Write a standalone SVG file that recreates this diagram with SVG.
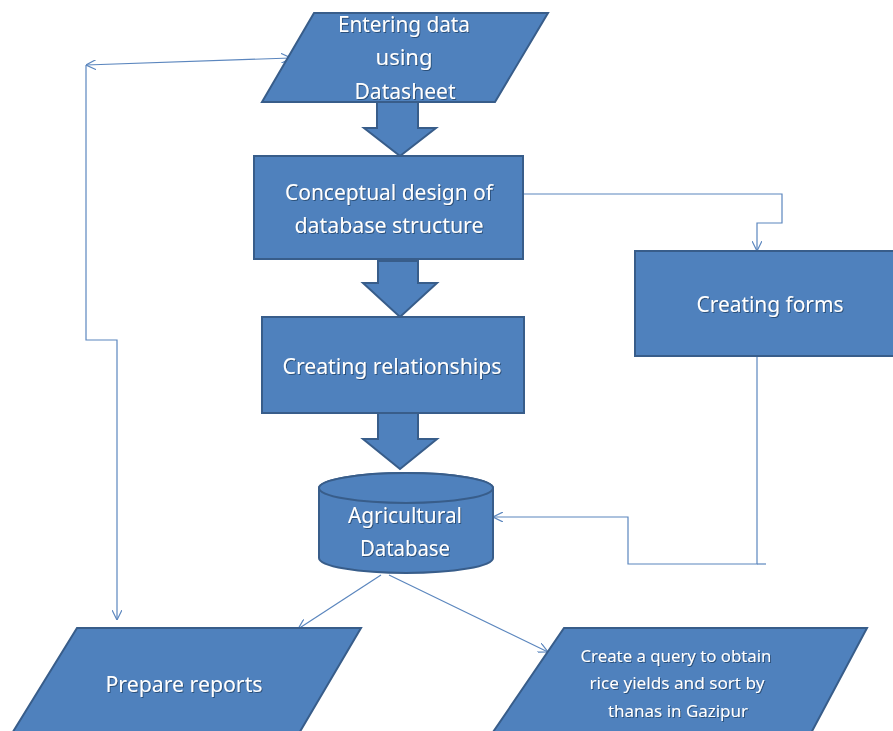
<svg xmlns="http://www.w3.org/2000/svg" width="893" height="731" viewBox="0 0 893 731">
<defs>
<style>
.shape{fill:#4F81BD;stroke:#385D8A;stroke-width:2}
.t{fill:#ffffff;font-family:"Noto Sans","Open Sans",sans-serif;text-anchor:middle;font-size:22px;filter:url(#sh)}
.s{font-size:17px}
.conn{fill:none;stroke:#5B86BE;stroke-width:1.2}
</style>
<filter id="sh" x="-10%" y="-30%" width="120%" height="160%">
<feDropShadow dx="1" dy="1" stdDeviation="0.6" flood-color="#1F3A5F" flood-opacity="0.7"/>
</filter>
<marker id="ah" viewBox="0 0 10 10" refX="10" refY="5" markerWidth="10" markerHeight="10" markerUnits="userSpaceOnUse" orient="auto-start-reverse">
<path d="M0,0 L10,5 L0,10" fill="none" stroke="#5B86BE" stroke-width="1.2"/>
</marker>
</defs>
<rect width="893" height="731" fill="#ffffff"/>
<g id="connectors">
<line class="conn" x1="86" y1="65" x2="291" y2="58" marker-start="url(#ah)" marker-end="url(#ah)"/>
<polyline class="conn" points="86,65 86,340 117,340 117,620" marker-end="url(#ah)"/>
<polyline class="conn" points="523,194 782,194 782,223 757,223 757,251" marker-end="url(#ah)"/>
<polyline class="conn" points="757,356 757,564 628,564 628,517 493,517" marker-end="url(#ah)"/>
<line class="conn" x1="757" y1="564" x2="766" y2="564"/>
<line class="conn" x1="381" y1="575" x2="298" y2="629" marker-end="url(#ah)"/>
<line class="conn" x1="389" y1="575" x2="548" y2="652" marker-end="url(#ah)"/>
<polygon class="shape" points="377,100 418,100 418,128 436,128 400,156 364,128 377,128"/>
<polygon class="shape" points="378,261 418,261 418,283 437,283 400,317 363,283 378,283"/>
<polygon class="shape" points="378,413 418,413 418,439 437,439 400,469 363,439 378,439"/>
</g>
<g id="entering">
<polygon class="shape" points="314,13 548,13 495,102 262,102"/>
<text class="t" x="404" y="32" textLength="132" lengthAdjust="spacingAndGlyphs">Entering data</text>
<text class="t" x="404" y="65">using</text>
<text class="t" x="405" y="99" textLength="101" lengthAdjust="spacingAndGlyphs">Datasheet</text>
</g>
<g id="conceptual">
<rect class="shape" x="254" y="156" width="269" height="103"/>
<text class="t" x="389" y="200" textLength="208" lengthAdjust="spacingAndGlyphs">Conceptual design of</text>
<text class="t" x="389" y="233" textLength="189" lengthAdjust="spacingAndGlyphs">database structure</text>
</g>
<g id="relationships">
<rect class="shape" x="262" y="317" width="262" height="96"/>
<text class="t" x="392" y="374" textLength="219" lengthAdjust="spacingAndGlyphs">Creating relationships</text>
</g>
<g id="forms">
<rect class="shape" x="635" y="251" width="270" height="105"/>
<text class="t" x="770" y="312" textLength="147" lengthAdjust="spacingAndGlyphs">Creating forms</text>
</g>
<g id="database">
<path class="shape" d="M319,488 L319,558 A87,15 0 0 0 493,558 L493,488 A87,15 0 0 0 319,488 Z"/>
<ellipse class="shape" cx="406" cy="488" rx="87" ry="15"/>
<text class="t" x="405" y="523" textLength="114" lengthAdjust="spacingAndGlyphs">Agricultural</text>
<text class="t" x="405" y="556" textLength="90" lengthAdjust="spacingAndGlyphs">Database</text>
</g>
<g id="reports">
<polygon class="shape" points="77,628 361,628 298,735 11,735"/>
<text class="t" x="184" y="692" textLength="157" lengthAdjust="spacingAndGlyphs">Prepare reports</text>
</g>
<g id="query">
<polygon class="shape" points="564,628 867,628 810,735 491,735"/>
<text class="t s" x="676" y="662" textLength="191" lengthAdjust="spacingAndGlyphs">Create a query to obtain</text>
<text class="t s" x="677" y="689" textLength="175" lengthAdjust="spacingAndGlyphs">rice yields and sort by</text>
<text class="t s" x="678" y="717" textLength="140" lengthAdjust="spacingAndGlyphs">thanas in Gazipur</text>
</g>
</svg>
